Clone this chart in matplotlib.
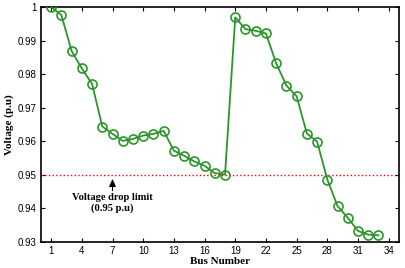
import numpy as np
import matplotlib
matplotlib.use('Agg')
import matplotlib.pyplot as plt

# bus voltage profile (33 buses)
buses = list(range(1, 34))
voltage = [1.0, 0.9976, 0.9869, 0.9817, 0.9771, 0.9644, 0.9622, 0.9601, 0.9607, 0.9617,
           0.9622, 0.9631, 0.9572, 0.9557, 0.9540, 0.9527, 0.9505, 0.9501, 0.9969, 0.9934,
           0.9929, 0.9921, 0.9832, 0.9766, 0.9734, 0.9623, 0.9599, 0.9486, 0.9407, 0.9372,
           0.9333, 0.9322, 0.9320]
xticks = [1, 4, 7, 10, 13, 16, 19, 22, 25, 28, 31, 34]
yticks = [0.93, 0.94, 0.95, 0.96, 0.97, 0.98, 0.99, 1.0]
ytick_labels = ['0.93', '0.94', '0.95', '0.96', '0.97', '0.98', '0.99', '1']
limit = 0.95

fig = plt.figure(figsize=(4.05, 2.68), dpi=100)
ax = fig.add_axes([0.101, 0.097, 0.884, 0.877])

ax.plot(buses, voltage, color='#2a962a', lw=1.3, marker='o', ms=6.5,
        mfc='none', mec='#2a962a', mew=1.2, zorder=3)
ax.axhline(limit, color='red', ls=':', lw=1.0, zorder=2)

# arrow pointing at the limit line
ax.annotate('', xy=(7, 0.9488), xytext=(7, 0.9453),
            arrowprops=dict(arrowstyle='-|>,head_width=0.2,head_length=0.45',
                            color='black', lw=0.8, shrinkA=0, shrinkB=0))
ax.text(7, 0.9445, 'Voltage drop limit\n(0.95 p.u)', ha='center', va='top',
        fontsize=7.6, fontweight='bold', family='Liberation Serif', linespacing=1.1)

ax.set_xlim(0, 35)
ax.set_ylim(0.93, 1.0)
ax.set_xticks(xticks)
ax.set_yticks(yticks)
ax.set_yticklabels(ytick_labels)
ax.tick_params(direction='in', top=True, right=True, labelsize=7, length=3,
               width=0.8, pad=3)
for lab in ax.get_xticklabels() + ax.get_yticklabels():
    lab.set_family('Liberation Sans')
for sp in ax.spines.values():
    sp.set_linewidth(1.2)

ax.set_xlabel('Bus Number', fontsize=8, fontweight='bold',
              family='Liberation Serif', labelpad=0.5)
ax.set_ylabel('Voltage (p.u)', fontsize=8, fontweight='bold',
              family='Liberation Serif', labelpad=3)

fig.savefig('out.png', dpi=100)
